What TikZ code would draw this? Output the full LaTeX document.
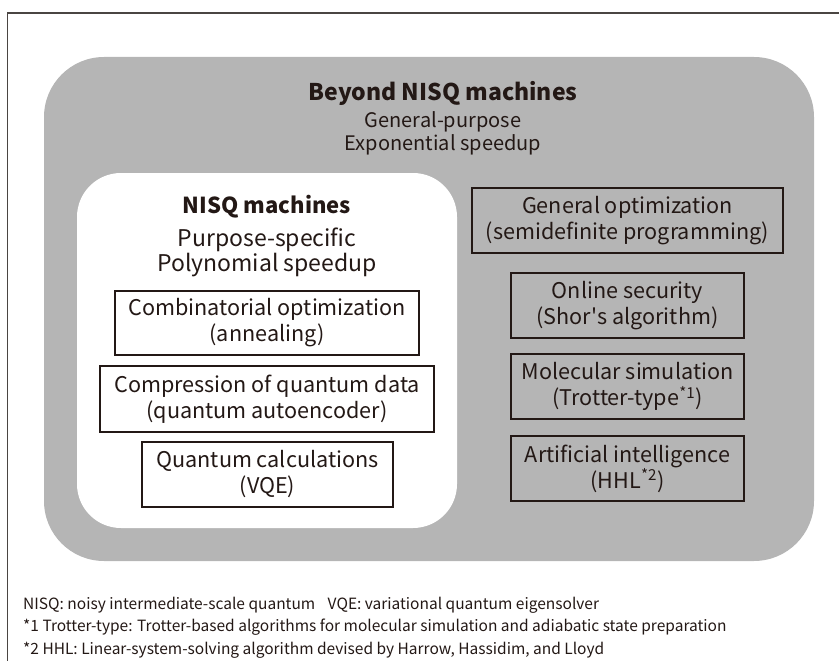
\documentclass[tikz,border=0pt]{standalone}
\usepackage{fontspec}
\setmainfont{Noto Sans CJK JP}
\usetikzlibrary{positioning}
\definecolor{ink}{HTML}{231815}
\definecolor{framecol}{HTML}{4A4542}
\definecolor{greyfill}{HTML}{B5B5B5}
\tikzset{
  itembox/.style={draw=ink, line width=2.2pt, text=ink, align=center,
    inner sep=0pt, font=\fontsize{21.6}{26}\selectfont},
  titletext/.style={text=ink, align=center, inner sep=0pt, font=\bfseries\fontsize{23}{26}\selectfont},
  subtext/.style={text=ink, align=center, inner sep=0pt, font=\fontsize{20}{23}\selectfont},
  nisqsubtext/.style={text=ink, align=center, inner sep=0pt, font=\fontsize{23}{25}\selectfont},
  notetext/.style={text=ink, anchor=west, inner sep=0pt, font=\fontsize{15.5}{16}\selectfont},
}
\begin{document}
\begin{tikzpicture}[x=1pt,y=-1pt]
\useasboundingbox (0,0) rectangle (839,661);
% frame (top and left)
\draw[framecol, line width=1.2pt] (7.5,661) -- (7.5,13) -- (839,13);
% outer grey region
\fill[greyfill, rounded corners=60pt] (44,57) rectangle (814,561);
% inner white region
\fill[white, rounded corners=44pt] (77,173) rectangle (457,528);
% titles
\node[titletext] (beyond) at (443,93) {Beyond NISQ machines};
\node[subtext] (beyondsub) at (443,133.5) {General-purpose\\Exponential speedup};
\node[titletext, font=\bfseries\fontsize{22}{26}\selectfont] (nisq) at (267,207) {NISQ machines};
\node[nisqsubtext] (nisqsub) at (267,252.5) {Purpose-specific\\Polynomial speedup};
% NISQ boxes
\node[itembox, fill=white, minimum width=304pt, minimum height=64pt] (comb) at (267,323) {Combinatorial optimization\\(annealing)};
\node[itembox, fill=white, minimum width=334pt, minimum height=66pt] (comp) at (267,399) {Compression of quantum data\\(quantum autoencoder)};
\node[itembox, fill=white, minimum width=251pt, minimum height=65pt] (vqe) at (267.5,474.5) {Quantum calculations\\(VQE)};
% beyond boxes
\node[itembox, minimum width=311pt, minimum height=65pt] (genopt) at (627.5,220.5) {General optimization\\(semidefinite programming)};
\node[itembox, minimum width=233pt, minimum height=65pt] (online) at (627.5,305.5) {Online security\\(Shor\textquotesingle s algorithm)};
\node[itembox, minimum width=233pt, minimum height=65pt] (molec) at (627.5,386.5) {Molecular simulation\\(Trotter-type\textsuperscript{*1})};
\node[itembox, minimum width=233pt, minimum height=65pt] (ai) at (627.5,468.5) {Artificial intelligence\\(HHL\textsuperscript{*2})};
% footnotes
\node[notetext] (n1) at (23,605) {NISQ: noisy intermediate-scale quantum\hspace{0.8em}VQE: variational quantum eigensolver};
\node[notetext] (n2) at (23,627.5) {*1 Trotter-type: Trotter-based algorithms for molecular simulation and adiabatic state preparation};
\node[notetext] (n3) at (23,650) {*2 HHL: Linear-system-solving algorithm devised by Harrow, Hassidim, and Lloyd};
\end{tikzpicture}
\end{document}
